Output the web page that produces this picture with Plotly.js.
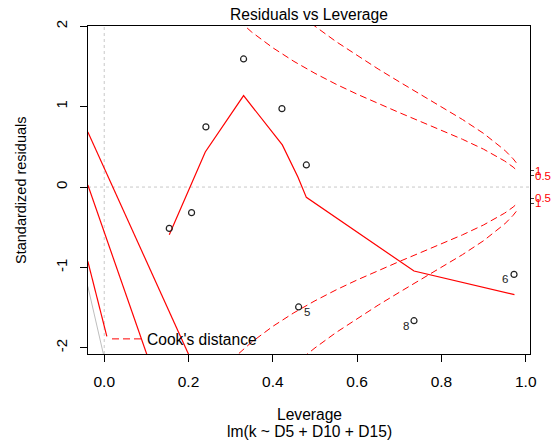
<!DOCTYPE html>
<html><head><meta charset="utf-8">
<script src="https://cdn.plot.ly/plotly-3.0.1.min.js"></script>
<style>html,body{margin:0;padding:0;background:#fff}#chart{width:560px;height:442px}</style>
</head><body><div id="chart"></div><script>
// observations (leverage, standardized residual), obs numbers 1..9
var obsId    = [1, 2, 3, 4, 5, 6, 7, 8, 9];
var leverage = [0.1543, 0.2072, 0.2412, 0.3306, 0.4612, 0.9722, 0.4216, 0.7349, 0.4795];
var stdres   = [-0.514, -0.318, 0.748, 1.593, -1.491, -1.086, 0.975, -1.662, 0.275];
var labelled = [5, 8, 6];

// red smoother
var smoothX = [0.1543, 0.2397, 0.3306, 0.4225, 0.4595, 0.4795, 0.7349, 0.9732];
var smoothY = [-0.592, 0.437, 1.137, 0.524, 0.126, -0.128, -1.044, -1.338];

// stray lines at left
var strayAX = [-0.0389, 0.2001], strayAY = [0.686, -2.08];
var strayBX = [-0.0389, 0.101],  strayBY = [0.025, -2.08];
var strayCX = [-0.0389, 0.0062], strayCY = [-0.924, -1.857];
var grayX   = [-0.0389, -0.002], grayY   = [-1.235, -2.076];

// Cook's distance contours
var cookH05 = [0.30, 0.33, 0.35, 0.40, 0.45, 0.50, 0.55, 0.60, 0.65, 0.70, 0.75, 0.80, 0.85, 0.90, 0.93, 0.95, 0.97, 0.98];
var cookR05 = [2.160, 2.015, 1.927, 1.732, 1.563, 1.414, 1.279, 1.155, 1.038, 0.926, 0.816, 0.707, 0.594, 0.471, 0.388, 0.324, 0.249, 0.202];
var cookH1  = [0.45, 0.48, 0.50, 0.55, 0.60, 0.65, 0.70, 0.75, 0.80, 0.85, 0.90, 0.93, 0.95, 0.97, 0.98];
var cookR1  = [2.211, 2.082, 2.000, 1.809, 1.633, 1.468, 1.309, 1.155, 1.000, 0.840, 0.667, 0.549, 0.459, 0.352, 0.286];
var cookLabelY    = [0.201, 0.142, -0.142, -0.201];
var cookLabelText = ['1', '0.5', '0.5', '1'];

var xTicks = [0, 0.2, 0.4, 0.6, 0.8, 1.0];
var xTickText = ['0.0', '0.2', '0.4', '0.6', '0.8', '1.0'];
var yTicks = [-2, -1, 0, 1, 2];
var yTickText = ['-2', '-1', '0', '1', '2'];

var FONT = 'Liberation Sans, Arial, sans-serif';
var RED = '#FF0000';
var DASH = '7px,4px';

function neg(a){ return a.map(function(v){ return -v; }); }

var traces = [];
function redLine(x, y){ traces.push({x:x, y:y, type:'scatter', mode:'lines', line:{color:RED, width:1.2}, showlegend:false, hoverinfo:'skip'}); }
redLine(strayAX, strayAY);
redLine(strayBX, strayBY);
redLine(strayCX, strayCY);
traces.push({x:grayX, y:grayY, type:'scatter', mode:'lines', line:{color:'#BEBEBE', width:1}, showlegend:false});

traces.push({x:cookH05, y:cookR05, type:'scatter', mode:'lines', name:"Cook's distance", line:{color:RED, width:1, dash:DASH}, showlegend:true});
traces.push({x:cookH05, y:neg(cookR05), type:'scatter', mode:'lines', line:{color:RED, width:1, dash:DASH}, showlegend:false});
traces.push({x:cookH1, y:cookR1, type:'scatter', mode:'lines', line:{color:RED, width:1, dash:DASH}, showlegend:false});
traces.push({x:cookH1, y:neg(cookR1), type:'scatter', mode:'lines', line:{color:RED, width:1, dash:DASH}, showlegend:false});

traces.push({x:smoothX, y:smoothY, type:'scatter', mode:'lines', line:{color:RED, width:1.2}, showlegend:false});
traces.push({x:leverage, y:stdres, type:'scatter', mode:'markers', marker:{symbol:'circle-open', size:6, color:'#222', line:{width:1.2, color:'#222'}}, showlegend:false});

// invisible trace for right axis
traces.push({x:[0.5], y:[0], yaxis:'y2', type:'scatter', mode:'markers', marker:{opacity:0}, showlegend:false, hoverinfo:'skip'});

var annotations = [];
// id labels
var idShift = {5:[8, -5], 8:[-8, -5], 6:[-9, -5]};
labelled.forEach(function(id){
  var i = obsId.indexOf(id);
  annotations.push({x:leverage[i], y:stdres[i], xref:'x', yref:'y', text:String(id), showarrow:false,
    xshift:idShift[id][0], yshift:idShift[id][1], font:{family:FONT, size:11.5, color:'#222'}});
});
// right cook labels
cookLabelY.forEach(function(v, k){
  annotations.push({x:1, y:v, xref:'paper', yref:'y', text:cookLabelText[k], showarrow:false, xanchor:'left', xshift:3,
    font:{family:FONT, size:11.5, color:RED}});
});
// axis titles
annotations.push({x:0.5, y:0, xref:'paper', yref:'paper', text:'Leverage', showarrow:false, yanchor:'middle', yshift:-60, font:{family:FONT, size:15.6, color:'#000'}});
annotations.push({x:0.5, y:0, xref:'paper', yref:'paper', text:'lm(k ~ D5 + D10 + D15)', showarrow:false, yanchor:'middle', yshift:-77, font:{family:FONT, size:15.6, color:'#000'}});
annotations.push({x:0, y:0.5, xref:'paper', yref:'paper', text:'Standardized residuals', showarrow:false, textangle:-90, xanchor:'center', yanchor:'middle', xshift:-67, font:{family:FONT, size:14.5, color:'#000'}});

var yRange = [-2.076, 2.003];
var layout = {
  width:560, height:442,
  margin:{l:88, r:30, t:26, b:88, pad:0},
  paper_bgcolor:'#fff', plot_bgcolor:'#fff',
  font:{family:FONT, size:15, color:'#000'},
  title:{text:'Residuals vs Leverage', font:{family:FONT, size:15.6, color:'#000'}, x:0.5, xref:'paper', xanchor:'center', y:1-15/442, yref:'container', yanchor:'middle'},
  xaxis:{range:[-0.0385, 1.0101], tickvals:xTicks, ticktext:xTickText, ticks:'outside', ticklen:7, tickcolor:'#000', tickwidth:1,
    showline:true, linecolor:'#000', linewidth:1, mirror:true, showgrid:false, zeroline:false, tickfont:{family:FONT, size:15.5, color:'#000'}, ticklabelstandoff:6},
  yaxis:{range:yRange, tickvals:yTicks, ticktext:yTickText, ticks:'outside', ticklen:7, tickcolor:'#000', tickwidth:1, tickangle:-90,
    showline:true, linecolor:'#000', linewidth:1, mirror:true, showgrid:false, zeroline:false, tickfont:{family:FONT, size:15, color:'#000'}, ticklabelstandoff:7},
  yaxis2:{overlaying:'y', side:'right', range:yRange, tickvals:cookLabelY, ticks:'outside', ticklen:3, tickcolor:'#444', showticklabels:false,
    showline:false, showgrid:false, zeroline:false},
  shapes:[
    {type:'line', xref:'x', yref:'paper', x0:0, x1:0, y0:0, y1:1, line:{color:'#C8C8C8', width:1, dash:'dot'}, layer:'below'},
    {type:'line', xref:'paper', yref:'y', x0:0, x1:1, y0:0, y1:0, line:{color:'#C8C8C8', width:1, dash:'dot'}, layer:'below'}
  ],
  showlegend:true,
  legend:{x:0.043, y:0.045, xanchor:'left', yanchor:'middle', bgcolor:'rgba(0,0,0,0)', borderwidth:0, font:{family:FONT, size:15.6, color:'#000'}},
  annotations:annotations
};
Plotly.newPlot('chart', traces, layout, {displayModeBar:false, staticPlot:true});
</script></body></html>
